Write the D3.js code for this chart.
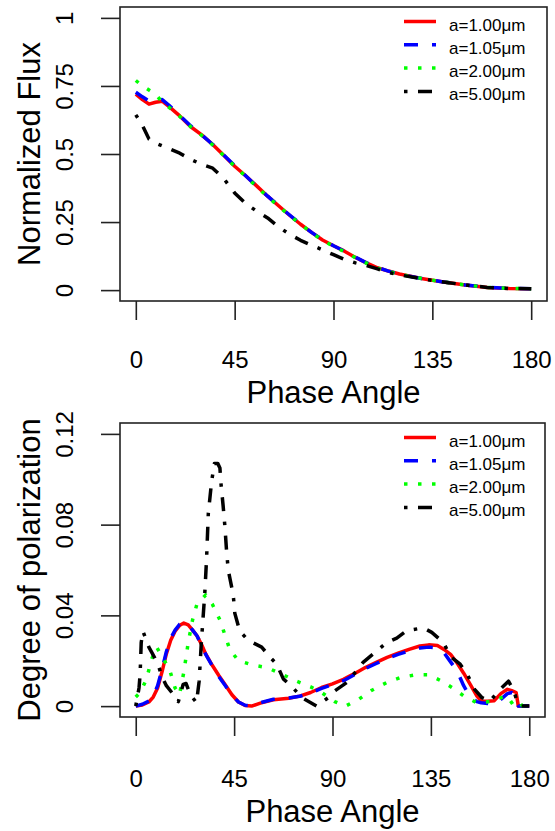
<!DOCTYPE html>
<html>
<head>
<meta charset="utf-8">
<script src="https://cdn.jsdelivr.net/npm/d3@7"></script>
<style>
  body { margin: 0; background: #fff; }
  text { font-family: "Liberation Sans", Arial, sans-serif; fill: #000; }
</style>
</head>
<body>
<div id="chart"></div>
<script>
// Series labels and styles (legend order).
const seriesLabels = ["a=1.00\u03bcm", "a=1.05\u03bcm", "a=2.00\u03bcm", "a=5.00\u03bcm"];
const seriesColors = ["#ff0000", "#0000ff", "#00ff00", "#000000"];

// Axis ticks.
const xTicks = [0, 45, 90, 135, 180];
const fluxTicks = [0, 0.25, 0.5, 0.75, 1];
const fluxTickLabels = ["0", "0.25", "0.5", "0.75", "1"];
const polTicks = [0, 0.04, 0.08, 0.12];
const polTickLabels = ["0", "0.04", "0.08", "0.12"];

// Top panel - normalized flux, all series share one angle grid.
const fluxAngles = [0, 3, 6, 9, 12, 15, 20, 25, 30, 35, 40, 45, 50, 55, 60, 65, 70, 75, 80, 85,
  90, 95, 100, 105, 110, 115, 120, 130, 140, 150, 160, 170, 180];
const flux100 = [0.72, 0.70, 0.683, 0.69, 0.694, 0.675, 0.64, 0.60, 0.57, 0.535, 0.495, 0.455, 0.42,
  0.383, 0.345, 0.31, 0.275, 0.242, 0.212, 0.184, 0.163, 0.143, 0.12, 0.10, 0.082, 0.07, 0.059,
  0.043, 0.03, 0.019, 0.01, 0.006, 0.005];
const flux105 = [0.727, 0.71, 0.695, 0.697, 0.70, 0.68, 0.642, 0.603, 0.57, 0.535, 0.496, 0.457,
  0.42, 0.382, 0.345, 0.31, 0.276, 0.243, 0.212, 0.185, 0.163, 0.143, 0.121, 0.10, 0.083, 0.07,
  0.058, 0.043, 0.03, 0.019, 0.01, 0.006, 0.005];
const flux200 = [0.77, 0.75, 0.735, 0.72, 0.69, 0.672, 0.638, 0.60, 0.568, 0.533, 0.494, 0.455,
  0.418, 0.38, 0.343, 0.308, 0.274, 0.242, 0.211, 0.183, 0.161, 0.141, 0.119, 0.099, 0.081, 0.069,
  0.058, 0.043, 0.03, 0.019, 0.01, 0.006, 0.005];
const flux500 = [0.644, 0.605, 0.555, 0.54, 0.53, 0.52, 0.503, 0.48, 0.462, 0.448, 0.41, 0.357,
  0.318, 0.29, 0.265, 0.232, 0.205, 0.183, 0.165, 0.148, 0.13, 0.113, 0.10, 0.09, 0.078, 0.065,
  0.056, 0.042, 0.03, 0.019, 0.01, 0.006, 0.005];

// Bottom panel - degree of polarization.
const polAngles = [0, 3, 6, 8, 10, 12, 14, 16, 18, 20, 22, 24, 26, 28, 30, 32, 35, 38, 41, 44, 47,
  50, 53, 57, 63, 70, 75, 80, 85, 90, 95, 100, 105, 110, 115, 120, 125, 130, 134, 138, 141, 144,
  147, 150, 153, 156, 158, 161, 164, 167, 170, 172, 174, 175, 180];
const pol100 = [0, 0.0005, 0.0018, 0.004, 0.008, 0.015, 0.023, 0.029, 0.033, 0.0355, 0.0366,
  0.0358, 0.0335, 0.031, 0.0274, 0.023, 0.018, 0.0135, 0.0093, 0.005, 0.0018, 0.0003, 0, 0.0013,
  0.0028, 0.0035, 0.0044, 0.006, 0.0082, 0.0098, 0.0118, 0.0143, 0.017, 0.0193, 0.0215, 0.0233,
  0.025, 0.0265, 0.027, 0.0267, 0.025, 0.0228, 0.019, 0.0145, 0.0096, 0.0045, 0.0022, 0.0021,
  0.0024, 0.0055, 0.0074, 0.0068, 0.006, 0, 0];
const pol105 = [0, 0.0008, 0.0022, 0.0045, 0.009, 0.016, 0.024, 0.030, 0.0335, 0.036, 0.0368,
  0.036, 0.0335, 0.031, 0.027, 0.0228, 0.0178, 0.013, 0.009, 0.0048, 0.0018, 0.0004, 0.0002,
  0.0015, 0.003, 0.0036, 0.0043, 0.0058, 0.0078, 0.0095, 0.0112, 0.0138, 0.0165, 0.0188, 0.021,
  0.0228, 0.0243, 0.0256, 0.026, 0.0256, 0.0235, 0.0195, 0.0155, 0.009, 0.004, 0.002, 0.0015,
  0.0012, 0.0008, 0.003, 0.0055, 0.006, 0.0035, 0, 0];
const polAngles200 = [0, 2, 5, 7, 9.5, 12, 15.5, 18, 20, 22, 24, 26, 28, 32, 35, 38.5, 43, 47, 54,
  60, 67, 73.5, 80, 85, 91, 96, 102, 108, 115, 121, 128, 134, 140, 145, 150, 156, 162, 168, 171,
  174, 177, 180];
const pol200 = [0.004, 0.006, 0.012, 0.02, 0.026, 0.022, 0.016, 0.008, 0.005, 0.015, 0.028, 0.038,
  0.045, 0.049, 0.045, 0.038, 0.025, 0.020, 0.018, 0.017, 0.014, 0.011, 0.0085, 0.006, 0.002, 0,
  0.003, 0.007, 0.0105, 0.0126, 0.0138, 0.0138, 0.011, 0.008, 0.0045, 0.0015, 0.002, 0.004, 0.001,
  0.003, 0, 0];
const polAngles500 = [0, 1.5, 2, 2.5, 3.3, 4.5, 6, 7.7, 10, 12, 14, 16.5, 18, 19.5, 21.7, 23, 25,
  27.8, 29, 30, 31.6, 32.4, 33.2, 34.7, 36, 37.5, 38.5, 39, 40, 40.8, 41.5, 42.3, 44.6, 45.3, 47.6,
  51.5, 57.6, 62, 64.5, 67.5, 72, 76, 82.8, 88, 91, 96.5, 101, 104, 109.5, 114.8, 119.4, 124,
  131.6, 135.4, 140.8, 143.8, 148.4, 152, 155, 158.4, 162, 166.7, 170.5, 173, 174.4, 176, 180];
const pol500 = [0, 0.008, 0.014, 0.028, 0.033, 0.03, 0.026, 0.023, 0.019, 0.013, 0.009, 0.006,
  0.003, 0.002, 0.0096, 0.01, 0.005, 0.0015, 0.011, 0.028, 0.05, 0.065, 0.085, 0.099, 0.107, 0.107,
  0.105, 0.098, 0.088, 0.079, 0.069, 0.06, 0.049, 0.041, 0.033, 0.029, 0.026, 0.021, 0.0185, 0.012,
  0.008, 0.0037, 0, 0.0037, 0.0067, 0.0104, 0.0156, 0.0193, 0.0237, 0.028, 0.030, 0.0333, 0.0345,
  0.0325, 0.028, 0.022, 0.0185, 0.0133, 0.0074, 0.0037, 0.0022, 0.0074, 0.011, 0.0067, 0.002, 0, 0];

// Line types (R lty 1..4 scaled by line width).
const seriesDashes = [null, "14,14", "3.5,10.5", "3.5,10.5,14,10.5"];
const lineWidth = 3.5;

const width = 555;
const height = 831;

const svg = d3.select("#chart")
  .append("svg")
  .attr("width", width)
  .attr("height", height);

function zip(xs, ys) {
  return xs.map((x, i) => [x, ys[i]]);
}

function drawPanel(cfg) {
  const g = svg.append("g");

  // R style scales: 4% extension beyond the data range.
  const x = d3.scaleLinear().domain([-7.2, 187.2]).range([cfg.left, cfg.right]);
  const yPad = (cfg.yMax - cfg.yMin) * 0.04;
  const y = d3.scaleLinear().domain([cfg.yMin - yPad, cfg.yMax + yPad]).range([cfg.bottom, cfg.top]);

  // X axis.
  const xAxis = g.append("g")
    .attr("transform", `translate(0,${cfg.bottom})`)
    .call(d3.axisBottom(x).tickValues(xTicks).tickSize(19).tickSizeOuter(0));
  xAxis.select(".domain").remove();
  xAxis.selectAll(".tick line").attr("stroke", "#222").attr("stroke-width", 1.6);
  xAxis.selectAll(".tick text")
    .attr("y", cfg.xLabelOffset)
    .attr("dy", null)
    .attr("fill", "#000")
    .style("font-size", "24px");

  // Y axis - rotated labels like R's default.
  const yAxis = g.append("g")
    .attr("transform", `translate(${cfg.left},0)`)
    .call(d3.axisLeft(y).tickValues(cfg.yTicks).tickSize(19).tickSizeOuter(0)
      .tickFormat((d, i) => cfg.yTickLabels[i]));
  yAxis.select(".domain").remove();
  yAxis.selectAll(".tick line").attr("stroke", "#222").attr("stroke-width", 1.6);
  yAxis.selectAll(".tick text")
    .attr("x", null)
    .attr("dy", null)
    .attr("fill", "#000")
    .attr("text-anchor", "middle")
    .attr("transform", "translate(-47,0) rotate(-90)")
    .style("font-size", "24px");

  // Axis titles.
  g.append("text")
    .attr("x", (x(0) + x(180)) / 2)
    .attr("y", cfg.bottom + cfg.titleOffset)
    .attr("text-anchor", "middle")
    .style("font-size", "31px")
    .text("Phase Angle");

  g.append("text")
    .attr("text-anchor", "middle")
    .attr("transform", `translate(40,${(cfg.top + cfg.bottom) / 2}) rotate(-90)`)
    .style("font-size", "31px")
    .text(cfg.yTitle);

  // Series lines.
  const line = d3.line().x((d) => x(d[0])).y((d) => y(d[1]));
  cfg.series.forEach((s, i) => {
    g.append("path")
      .datum(zip(s.angles, s.values))
      .attr("d", line)
      .attr("fill", "none")
      .attr("stroke", seriesColors[i])
      .attr("stroke-width", lineWidth)
      .attr("stroke-linejoin", "round")
      .attr("stroke-dasharray", seriesDashes[i]);
  });

  // Plot box.
  g.append("rect")
    .attr("x", cfg.left)
    .attr("y", cfg.top)
    .attr("width", cfg.right - cfg.left)
    .attr("height", cfg.bottom - cfg.top)
    .attr("fill", "none")
    .attr("stroke", "#222")
    .attr("stroke-width", 1.6);

  // Legend, top right inside the box.
  const legend = g.append("g");
  seriesLabels.forEach((label, i) => {
    const base = cfg.top + 23.5 + i * 23.3;
    legend.append("line")
      .attr("x1", 404).attr("x2", 436)
      .attr("y1", base - 9).attr("y2", base - 9)
      .attr("stroke", seriesColors[i])
      .attr("stroke-width", lineWidth)
      .attr("stroke-dasharray", seriesDashes[i]);
    legend.append("text")
      .attr("x", 449)
      .attr("y", base)
      .style("font-size", "17px")
      .text(label);
  });
}

drawPanel({
  top: 7, bottom: 301, left: 120, right: 547,
  yMin: 0, yMax: 1,
  yTicks: fluxTicks, yTickLabels: fluxTickLabels,
  yTitle: "Normalized Flux",
  xLabelOffset: 67, titleOffset: 102,
  series: [
    { angles: fluxAngles, values: flux100 },
    { angles: fluxAngles, values: flux105 },
    { angles: fluxAngles, values: flux200 },
    { angles: fluxAngles, values: flux500 }
  ]
});

drawPanel({
  top: 423, bottom: 717, left: 120, right: 545,
  yMin: 0, yMax: 0.12,
  yTicks: polTicks, yTickLabels: polTickLabels,
  yTitle: "Degree of polarization",
  xLabelOffset: 70, titleOffset: 105,
  series: [
    { angles: polAngles, values: pol100 },
    { angles: polAngles, values: pol105 },
    { angles: polAngles200, values: pol200 },
    { angles: polAngles500, values: pol500 }
  ]
});
</script>
</body>
</html>
